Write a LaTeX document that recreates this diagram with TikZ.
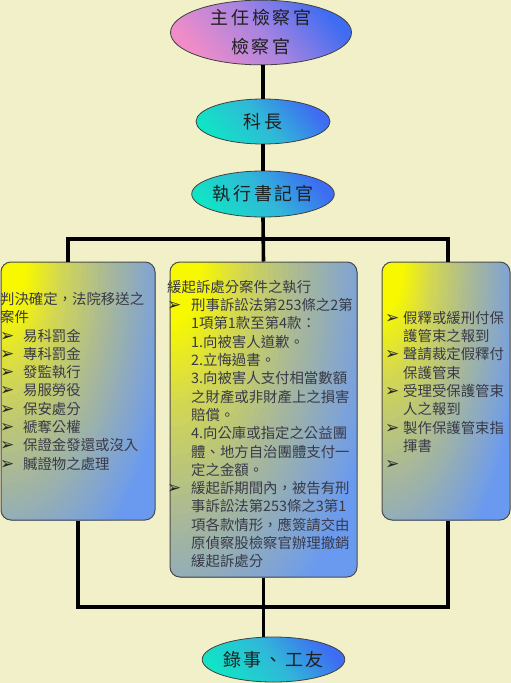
\documentclass[tikz,border=0pt]{standalone}
\usepackage{fontspec}
\usetikzlibrary{shapes.geometric}
\newfontfamily\cjk{Noto Sans CJK TC}
\newfontfamily\cjkwide{Noto Sans CJK TC}[LetterSpace=15]
\newfontfamily\dingfont{DejaVu Sans}
\definecolor{bgcol}{HTML}{F2F0C8}
\definecolor{pinkc}{HTML}{F08CC8}
\definecolor{purplec}{HTML}{A884E0}
\definecolor{blueov}{HTML}{3E6CF2}
\definecolor{cyanc}{HTML}{12E2C6}
\definecolor{cyanmid}{HTML}{30B8D8}
\definecolor{boxyellow}{HTML}{F8F800}
\definecolor{boxyel2}{HTML}{D4D850}
\definecolor{boxmid}{HTML}{A8B898}
\definecolor{boxmid2}{HTML}{88A8C8}
\definecolor{boxblue}{HTML}{6A9AF0}
\definecolor{textgray}{HTML}{383A48}
\newcommand{\bul}{{\dingfont\fontsize{17}{17}\selectfont\color{black!85}➢}}
\begin{document}
\begin{tikzpicture}[x=1pt,y=-1pt,
  oval/.style={ellipse, draw=black!75, line width=0.8pt, inner sep=0pt,
    font=\cjkwide\fontsize{18}{29}\selectfont, text=black!88, align=center},
  pinkoval/.style={oval, bottom color=pinkc, top color=blueov, middle color=purplec, shading angle=-50},
  cyanoval/.style={oval, bottom color=cyanc, top color=blueov, middle color=cyanmid, shading angle=-50},
  panel/.style 2 args={rectangle, rounded corners=10pt, draw=black!70, line width=1pt, inner sep=0pt,
    fill=boxblue, minimum width=#1, minimum height=#2,
    path picture={
      \foreach \a/\b/\ca/\cb in {1/0.82/boxblue/boxmid2, 0.82/0.62/boxmid2/boxmid,
                                  0.62/0.34/boxmid/boxyel2, 0.34/0.15/boxyel2/boxyellow}{
        \foreach \j in {0,...,11}{
          \pgfmathsetmacro\t{\a-(\a-\b)*\j/12}
          \pgfmathsetmacro\p{100*\j/12}
          \fill[\cb!\p!\ca] (path picture bounding box.north west)
            ellipse [x radius=\t*1.15*#1, y radius=\t*1.35*#2];
        }
      }
      \fill[boxyellow] (path picture bounding box.north west)
        ellipse [x radius=0.15*1.15*#1, y radius=0.15*1.35*#2];
    }},
  link/.style={line width=3.6pt, black, line join=miter},
  paneltext/.style={anchor=north west, inner sep=0pt, align=left,
    font=\cjk\fontsize{14.4}{18.3}\selectfont, text=textgray}
]
\fill[bgcol] (0,0) rectangle (511,683);
\useasboundingbox (0,0) rectangle (511,683);

% ovals
\node[pinkoval, minimum width=181pt, minimum height=61pt] (chief) at (261,32.5) {主任檢察官\\檢察官};
\node[cyanoval, minimum width=134pt, minimum height=45pt] (head) at (263,121.5) {科長};
\node[cyanoval, minimum width=134pt, minimum height=46pt] (clerk) at (263,194) {執行書記官};
\node[cyanoval, minimum width=133pt, minimum height=45pt] (staff) at (273.5,659.5) {錄事、工友};

% panels
\node[panel={154pt}{258pt}] (lbox) at (78,391) {};
\node[panel={187pt}{315pt}] (mbox) at (263.5,419.5) {};
\node[panel={128pt}{258pt}] (rbox) at (446,391) {};

% junctions
\coordinate (tj) at (263,239);
\coordinate (tl) at (68,239);
\coordinate (tr) at (448,239);
\coordinate (bl) at (78,607);
\coordinate (br) at (448,607);

% connectors
\draw[link] (head.north) -- (head.north |- chief.south);
\draw[link] (clerk.north) -- (head.south);
\draw[link] (clerk.south) -- (mbox.north);
\draw[link] (tl |- lbox.north) -- (tl) -- (tr) -- (tr |- rbox.north);
\draw[link] (lbox.south) -- (bl) -- (br) -- (br |- rbox.south);
\draw[link] (mbox.south) -- (mbox.south |- staff.north);

% panel texts
\node[paneltext] (ltext) at (0,292) {判決確定，法院移送之\\案件\\
\makebox[23pt][l]{\bul}易科罰金\\
\makebox[23pt][l]{\bul}專科罰金\\
\makebox[23pt][l]{\bul}發監執行\\
\makebox[23pt][l]{\bul}易服勞役\\
\makebox[23pt][l]{\bul}保安處分\\
\makebox[23pt][l]{\bul}褫奪公權\\
\makebox[23pt][l]{\bul}保證金發還或沒入\\
\makebox[23pt][l]{\bul}贓證物之處理};

\node[paneltext] (mtext) at (167,280) {緩起訴處分案件之執行\\
\makebox[24pt][l]{\bul}刑事訴訟法第253條之2第\\
\hspace*{24pt}1項第1款至第4款：\\
\hspace*{24pt}1.向被害人道歉。\\
\hspace*{24pt}2.立悔過書。\\
\hspace*{24pt}3.向被害人支付相當數額\\
\hspace*{24pt}之財產或非財產上之損害\\
\hspace*{24pt}賠償。\\
\hspace*{24pt}4.向公庫或指定之公益團\\
\hspace*{24pt}體、地方自治團體支付一\\
\hspace*{24pt}定之金額。\\
\makebox[24pt][l]{\bul}緩起訴期間內，被告有刑\\
\hspace*{24pt}事訴訟法第253條之3第1\\
\hspace*{24pt}項各款情形，應簽請交由\\
\hspace*{24pt}原偵察股檢察官辦理撤銷\\
\hspace*{24pt}緩起訴處分};

\node[paneltext] (rtext) at (385,311) {\makebox[18pt][l]{\bul}假釋或緩刑付保\\
\hspace*{18pt}護管束之報到\\
\makebox[18pt][l]{\bul}聲請裁定假釋付\\
\hspace*{18pt}保護管束\\
\makebox[18pt][l]{\bul}受理受保護管束\\
\hspace*{18pt}人之報到\\
\makebox[18pt][l]{\bul}製作保護管束指\\
\hspace*{18pt}揮書\\
\makebox[18pt][l]{\bul}};
\end{tikzpicture}
\end{document}
